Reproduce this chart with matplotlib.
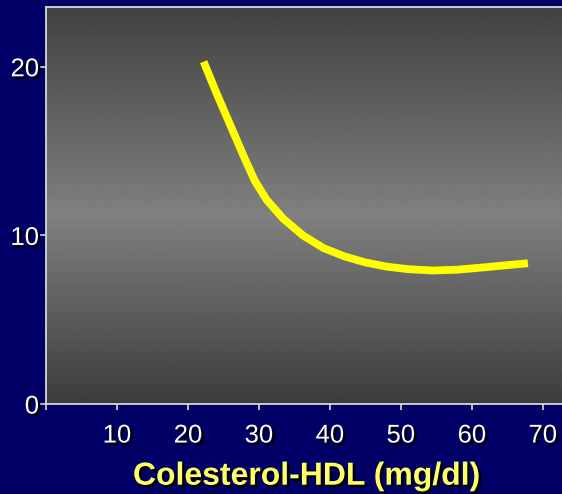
import matplotlib
matplotlib.use("Agg")
import matplotlib.pyplot as plt
import matplotlib.patheffects as pe
import numpy as np

# HDL cholesterol (mg/dl) vs. risk curve
hdl = [22.2, 24.0, 25.9, 28.0, 29.4, 31.1, 33.4, 36.2, 39.1, 42.1, 45.0, 48.0,
       51.0, 54.5, 58.0, 61.5, 64.5, 67.9]
risk = [20.3, 18.45, 16.6, 14.55, 13.25, 12.1, 11.0, 10.0, 9.25, 8.75, 8.4, 8.15,
        8.0, 7.92, 7.97, 8.1, 8.22, 8.35]

x_ticks = [10, 20, 30, 40, 50, 60, 70]
y_ticks = [0, 10, 20]
x_label = "Colesterol-HDL (mg/dl)"

plt.rcParams['font.family'] = ['Liberation Sans', 'DejaVu Sans']

navy = '#000066'
shadow = [pe.withSimplePatchShadow(offset=(1.8, -1.8), shadow_rgbFace='black', alpha=1.0)]

fig = plt.figure(figsize=(5.62, 4.94), dpi=100, facecolor=navy)
ax = fig.add_axes([0.082, 0.182, 0.918, 0.804])

# grey band, dark at top and bottom, lightest a bit below the middle
t = np.linspace(0, 1, 400)
mid = 0.476
shade = np.where(t < mid, 0x3c + (0x80 - 0x3c) * (t / mid),
                 0x80 - (0x80 - 0x42) * ((t - mid) / (1 - mid))) / 255.0
grad = np.repeat(shade[:, None], 2, axis=1)
ax.imshow(grad, cmap='gray', vmin=0, vmax=1, origin='lower', aspect='auto',
          extent=[0, 1, 0, 1], transform=ax.transAxes, zorder=0)

ax.plot(hdl, risk, color='#ffff00', lw=5.6, solid_capstyle='butt',
        solid_joinstyle='round', zorder=3)

ax.set_xlim(0, 72.7)
ax.set_ylim(0, 23.55)
ax.set_xticks([0] + x_ticks)
ax.set_xticklabels([''] + [str(v) for v in x_ticks])
ax.set_yticks(y_ticks)
ax.set_yticklabels([str(v) for v in y_ticks])

ax.spines['right'].set_visible(False)
for side in ['left', 'bottom', 'top']:
    ax.spines[side].set_color('#d8d8d8')
    ax.spines[side].set_linewidth(1.3)

ax.tick_params(axis='both', colors='#d8d8d8', length=4, width=1.2,
               labelcolor='white', labelsize=18.5)
ax.tick_params(axis='x', pad=10)
ax.tick_params(axis='y', pad=1)
for lab in ax.get_xticklabels() + ax.get_yticklabels():
    lab.set_path_effects(shadow)

ax.set_xlabel(x_label, color='#ffff66', fontsize=23, fontweight='bold',
              path_effects=shadow)
ax.xaxis.set_label_coords(0.505, -0.145)

fig.savefig('out.png', dpi=100, facecolor=navy)
